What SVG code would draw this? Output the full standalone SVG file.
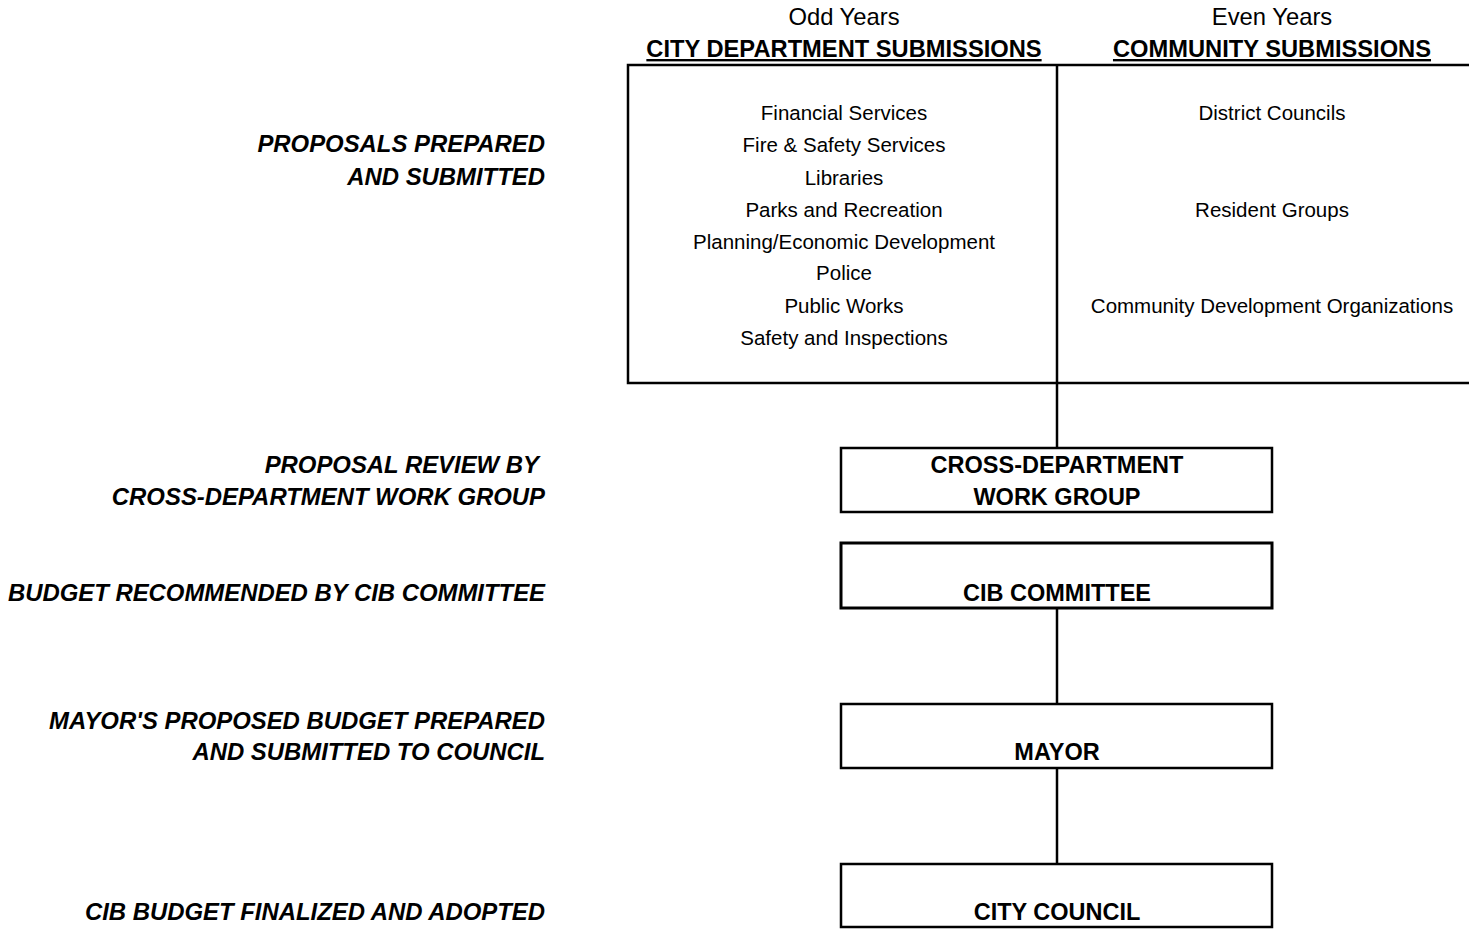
<svg xmlns="http://www.w3.org/2000/svg" width="1469" height="930" viewBox="0 0 1469 930">
<style>
.hdr{font-family:"Liberation Sans",Arial,sans-serif;font-size:23.8px;text-anchor:middle;fill:#000}
.hdrb{font-family:"Liberation Sans",Arial,sans-serif;font-size:23.7px;font-weight:bold;text-anchor:middle;fill:#000;text-decoration:underline}
.item{font-family:"Liberation Sans",Arial,sans-serif;font-size:20.5px;text-anchor:middle;fill:#000}
.box{fill:#fff;stroke:#000;stroke-width:2.5}
.btxt{font-family:"Liberation Sans",Arial,sans-serif;font-size:23.5px;font-weight:bold;text-anchor:middle;fill:#000}
.lbl{font-family:"Liberation Sans",Arial,sans-serif;font-size:23.9px;font-weight:bold;font-style:italic;text-anchor:end;fill:#000}
.conn{stroke:#000;stroke-width:2.5;fill:none}
</style>
<rect width="1469" height="930" fill="#fff"/>
<g id="stage-labels">
<text class="lbl" x="545" y="152">PROPOSALS PREPARED</text>
<text class="lbl" x="545" y="185">AND SUBMITTED</text>
<text class="lbl" x="539" y="473">PROPOSAL REVIEW BY</text>
<text class="lbl" x="545" y="505">CROSS-DEPARTMENT WORK GROUP</text>
<text class="lbl" x="545" y="601">BUDGET RECOMMENDED BY CIB COMMITTEE</text>
<text class="lbl" x="545" y="729">MAYOR'S PROPOSED BUDGET PREPARED</text>
<text class="lbl" x="545" y="760">AND SUBMITTED TO COUNCIL</text>
<text class="lbl" x="545" y="920">CIB BUDGET FINALIZED AND ADOPTED</text>
</g>
<g id="connectors">
<line class="conn" x1="1057" y1="383" x2="1057" y2="448"/>
<line class="conn" x1="1057" y1="608" x2="1057" y2="704"/>
<line class="conn" x1="1057" y1="768" x2="1057" y2="864"/>
</g>
<g id="submissions">
<text class="hdr" x="844" y="25">Odd Years</text>
<text class="hdrb" x="844" y="57">CITY DEPARTMENT SUBMISSIONS</text>
<text class="hdr" x="1272" y="25">Even Years</text>
<text class="hdrb" x="1272" y="57">COMMUNITY SUBMISSIONS</text>
<rect class="box" x="628" y="65" width="850" height="318"/>
<line class="conn" x1="1057" y1="65" x2="1057" y2="383"/>
</g>
<g id="city-departments">
<text class="item" x="844" y="120">Financial Services</text>
<text class="item" x="844" y="152">Fire &amp; Safety Services</text>
<text class="item" x="844" y="185">Libraries</text>
<text class="item" x="844" y="217">Parks and Recreation</text>
<text class="item" x="844" y="249">Planning/Economic Development</text>
<text class="item" x="844" y="280">Police</text>
<text class="item" x="844" y="313">Public Works</text>
<text class="item" x="844" y="345">Safety and Inspections</text>
</g>
<g id="community">
<text class="item" x="1272" y="120">District Councils</text>
<text class="item" x="1272" y="217">Resident Groups</text>
<text class="item" x="1272" y="313">Community Development Organizations</text>
</g>
<g id="work-group">
<rect class="box" x="841" y="448" width="431" height="64"/>
<text class="btxt" x="1057" y="473">CROSS-DEPARTMENT</text>
<text class="btxt" x="1057" y="505">WORK GROUP</text>
</g>
<g id="cib-committee">
<rect class="box" x="841" y="543" width="431" height="65" style="stroke-width:3"/>
<text class="btxt" x="1057" y="601">CIB COMMITTEE</text>
</g>
<g id="mayor">
<rect class="box" x="841" y="704" width="431" height="64"/>
<text class="btxt" x="1057" y="760">MAYOR</text>
</g>
<g id="city-council">
<rect class="box" x="841" y="864" width="431" height="63"/>
<text class="btxt" x="1057" y="920">CITY COUNCIL</text>
</g>
</svg>
